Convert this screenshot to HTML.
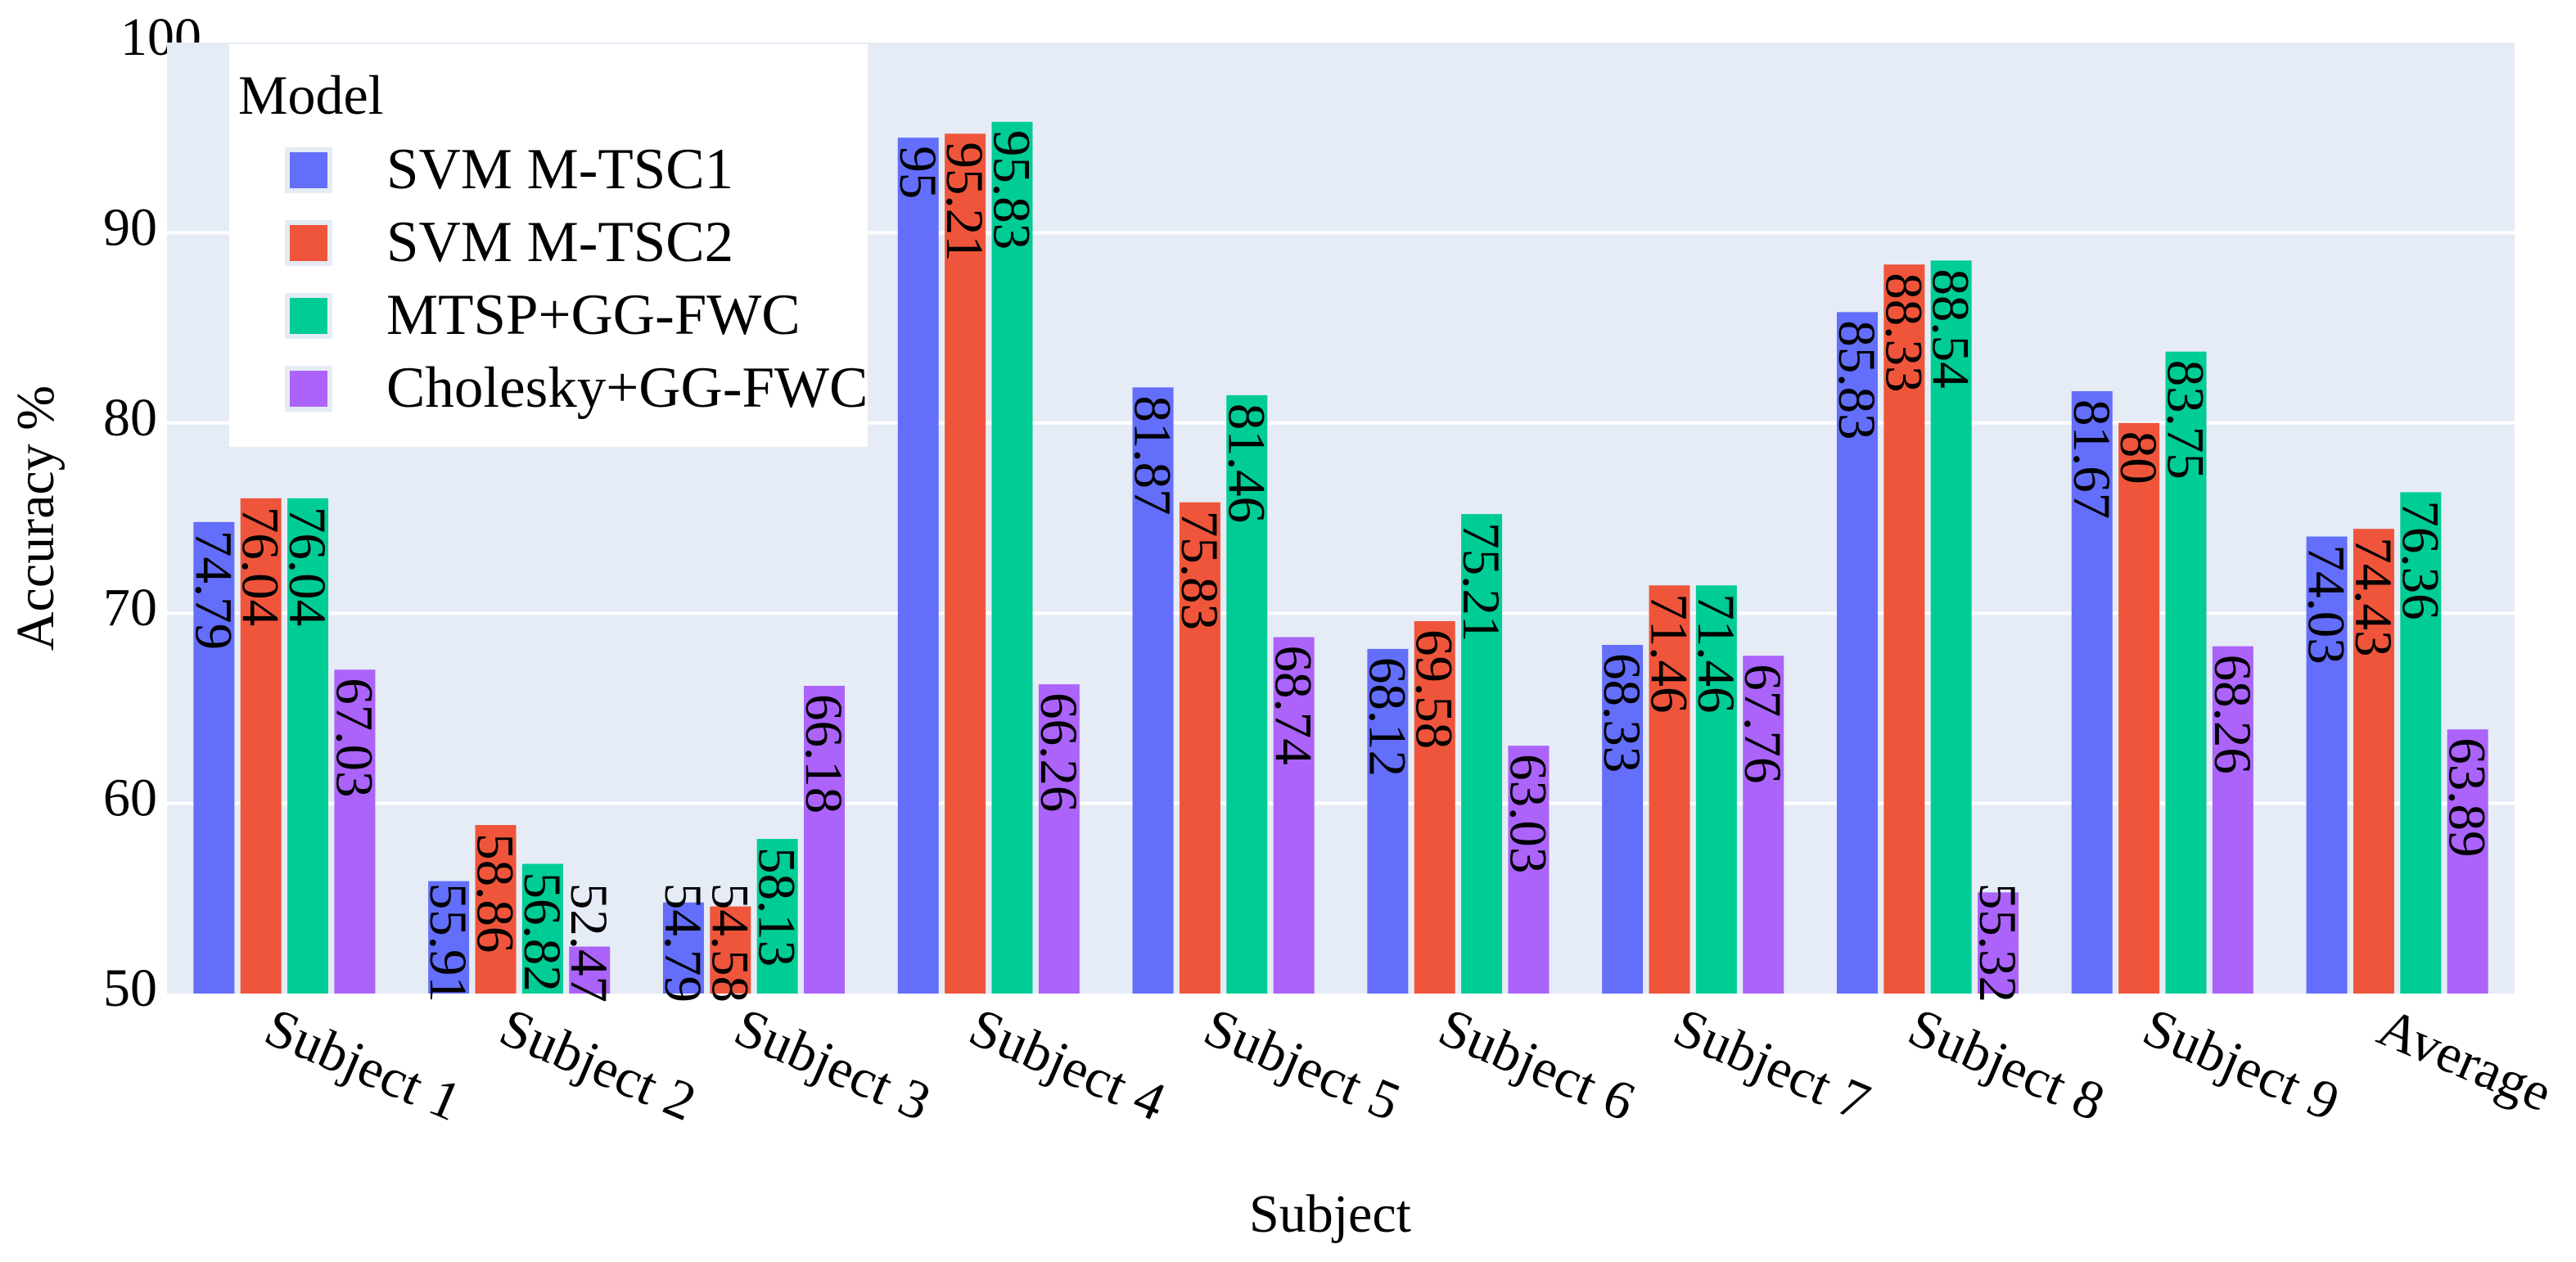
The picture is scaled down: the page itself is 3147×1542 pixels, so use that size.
<!DOCTYPE html>
<html><head><meta charset="utf-8"><style>
html,body{margin:0;padding:0;background:#fff}
svg{display:block;font-family:"Liberation Serif",serif}
</style></head><body>
<svg id="chart" width="3147" height="1542" viewBox="0 0 3147 1542" xmlns="http://www.w3.org/2000/svg">
<g id="yticks"></g>
<rect x="204" y="52" width="2868" height="1162" fill="#E5ECF6"/>
<g id="grid"></g>
<g id="bars"></g>
<g id="labels"></g>
<g id="xticks"></g>
<text x="1625" y="1505" font-size="66" text-anchor="middle">Subject</text>
<text transform="translate(65,633) rotate(-90)" font-size="66" text-anchor="middle">Accuracy %</text>
<g id="legend">
<rect x="280" y="54" width="780" height="492" fill="#fff"/>
<text x="291" y="139" font-size="68">Model</text>
</g>
</svg>
<script>
const categories = ["Subject 1","Subject 2","Subject 3","Subject 4","Subject 5","Subject 6","Subject 7","Subject 8","Subject 9","Average"];
const seriesNames = ["SVM M-TSC1","SVM M-TSC2","MTSP+GG-FWC","Cholesky+GG-FWC"];
const svmTsc1 = [74.79,55.91,54.79,95,81.87,68.12,68.33,85.83,81.67,74.03];
const svmTsc2 = [76.04,58.86,54.58,95.21,75.83,69.58,71.46,88.33,80,74.43];
const mtspGgFwc = [76.04,56.82,58.13,95.83,81.46,75.21,71.46,88.54,83.75,76.36];
const choleskyGgFwc = [67.03,52.47,66.18,66.26,68.74,63.03,67.76,55.32,68.26,63.89];
const yTicks = [50,60,70,80,90,100];
const colors = ["#636EFA","#EF553B","#00CC96","#AB63FA"];
const series = [svmTsc1,svmTsc2,mtspGgFwc,choleskyGgFwc];

const NS="http://www.w3.org/2000/svg";
const L=204,R=3072,T=52,B=1214,YMIN=50,YMAX=100;
const yScale=v=>B-(v-YMIN)/(YMAX-YMIN)*(B-T);
const groupW=(R-L)/categories.length;
const slot=groupW*0.8/series.length, barW=50;
const xCenter=i=>L+groupW*(i+0.5);
function mk(tag,attrs,parent){const e=document.createElementNS(NS,tag);for(const k in attrs)e.setAttribute(k,attrs[k]);parent.appendChild(e);return e;}

const grid=document.getElementById('grid'), yt=document.getElementById('yticks');
yTicks.forEach(v=>{
  const y=yScale(v);
  if(v>YMIN && v<YMAX){const g=mk('line',{x1:L,x2:R,y1:y,y2:y,stroke:'#fff','stroke-width':4},grid);
  
  }
  let t;
  if(v===YMAX){t=mk('text',{x:147,y:y+15,'font-size':66},yt);}
  else{t=mk('text',{x:192,y:y+15,'font-size':66,'text-anchor':'end'},yt);}
  t.textContent=v;
  
  
});

const bars=document.getElementById('bars'), labs=document.getElementById('labels'), xt=document.getElementById('xticks');
const FS=65;
categories.forEach((c,i)=>{
  const cx=xCenter(i);
  series.forEach((s,k)=>{
    const bc=cx+(k-1.5)*slot, v=s[i], top=yScale(v);
    const r=mk('rect',{x:bc-barW/2,y:top,width:barW,height:B-top,fill:colors[k]},bars);
    
    
    const txt=String(v);
    let len=0;for(const ch of txt)len+=(ch==='.'?0.25:0.5)*FS;
    const start=Math.min(top+10,B+11-len);
    const t=mk('text',{transform:`translate(${bc-22},${start}) rotate(90)`,'font-size':FS},labs);
    t.textContent=txt;
    
    
  });
  const xl=mk('text',{transform:`translate(${cx-28},${1272}) rotate(23)`,'font-size':67},xt);
  xl.textContent=c;
  
  
});

const leg=document.getElementById('legend');
seriesNames.forEach((n,k)=>{
  const y0=183+k*89;
  const sw=mk('rect',{x:351,y:y0,width:52,height:50,fill:colors[k],stroke:'#E5ECF6','stroke-width':6},leg);
  
  
  const t=mk('text',{x:472,y:230+k*89,'font-size':71},leg);
  t.textContent=n;
  
  
});
</script>
</body></html>
